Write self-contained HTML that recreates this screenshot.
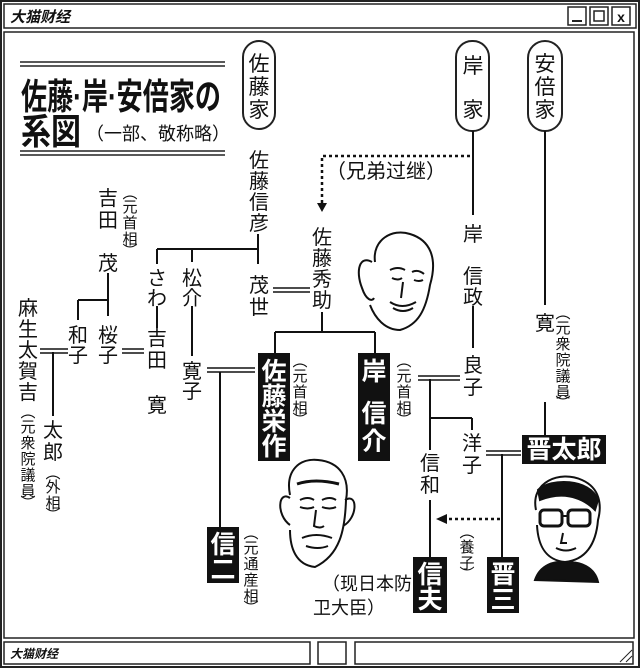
<!DOCTYPE html>
<html><head><meta charset="utf-8">
<style>
html,body{margin:0;padding:0;background:#fff;}
svg{display:block;}
text{font-family:"Liberation Sans","Noto Sans CJK JP",sans-serif;fill:#111;}
</style></head><body>
<svg width="640" height="668" viewBox="0 0 640 668" xmlns="http://www.w3.org/2000/svg">
<rect x="1" y="1" width="638" height="666" fill="#fff" stroke="#222" stroke-width="2"/>
<rect x="4" y="4" width="632" height="24" fill="#fff" stroke="#222" stroke-width="1.5"/>
<text x="10" y="22" font-size="15" font-weight="bold" font-style="italic">大猫财经</text>
<rect x="568" y="7" width="18" height="18" fill="#fff" stroke="#222" stroke-width="1.5"/>
<line x1="572" y1="21" x2="582" y2="21" stroke="#222" stroke-width="2"/>
<rect x="590" y="7" width="18" height="18" fill="#fff" stroke="#222" stroke-width="1.5"/>
<rect x="594" y="11" width="10" height="10" fill="none" stroke="#222" stroke-width="1.5"/>
<rect x="612" y="7" width="18" height="18" fill="#fff" stroke="#222" stroke-width="1.5"/>
<text x="621" y="22" font-size="14" font-weight="bold" text-anchor="middle">x</text>
<rect x="4" y="32" width="630" height="606" fill="#fff" stroke="#222" stroke-width="1.5"/>
<rect x="4" y="642" width="306" height="22" fill="#fff" stroke="#222" stroke-width="1.5"/>
<text x="10" y="658" font-size="12" font-weight="bold" font-style="italic">大猫财经</text>
<rect x="318" y="642" width="28" height="22" fill="#fff" stroke="#222" stroke-width="1.5"/>
<rect x="355" y="642" width="278" height="22" fill="#fff" stroke="#222" stroke-width="1.5"/>
<line x1="620" y1="662" x2="632" y2="650" stroke="#222"/><line x1="626" y1="662" x2="632" y2="656" stroke="#222"/>

<line x1="20" y1="62" x2="225" y2="62" stroke="#222" stroke-width="1.5"/>
<line x1="20" y1="66" x2="225" y2="66" stroke="#222" stroke-width="1.5"/>
<text x="21" y="109" font-size="36" font-weight="bold" textLength="200" lengthAdjust="spacingAndGlyphs">佐藤·岸·安倍家の</text>
<text x="21" y="144" font-size="36" font-weight="bold" textLength="60" lengthAdjust="spacingAndGlyphs">系図</text>
<text x="86" y="140" font-size="18">（一部、敬称略）</text>
<line x1="20" y1="151" x2="225" y2="151" stroke="#222" stroke-width="1.5"/>
<line x1="20" y1="155" x2="225" y2="155" stroke="#222" stroke-width="1.5"/>

<g fill="none" stroke="#222" stroke-width="2">
<rect x="243" y="41" width="32" height="88" rx="16"/>
<rect x="456" y="41" width="33" height="90" rx="16"/>
<rect x="528" y="41" width="34" height="90" rx="17"/>
</g>
<g font-size="21" text-anchor="middle">
<text x="259" y="71">佐</text><text x="259" y="94">藤</text><text x="259" y="117">家</text>
<text x="473" y="73">岸</text><text x="473" y="117">家</text>
<text x="545" y="71">安</text><text x="545" y="94">倍</text><text x="545" y="117">家</text>
</g>

<g stroke="#111" stroke-width="2" fill="none">
<line x1="473" y1="131" x2="473" y2="215"/>
<line x1="545" y1="131" x2="545" y2="305"/>
<line x1="258" y1="234" x2="258" y2="264"/>
<line x1="157" y1="249" x2="258" y2="249"/>
<line x1="157" y1="249" x2="157" y2="264"/>
<line x1="192" y1="249" x2="192" y2="262"/>
<line x1="108" y1="273" x2="108" y2="316"/>
<line x1="78" y1="300" x2="108" y2="300"/>
<line x1="78" y1="300" x2="78" y2="320"/>
<line x1="157" y1="306" x2="157" y2="328"/>
<line x1="192" y1="306" x2="192" y2="356"/>
<line x1="53" y1="352" x2="53" y2="416"/>
<line x1="322" y1="312" x2="322" y2="332"/>
<line x1="275" y1="332" x2="375" y2="332"/>
<line x1="275" y1="332" x2="275" y2="353"/>
<line x1="375" y1="332" x2="375" y2="353"/>
<line x1="220" y1="372" x2="220" y2="527"/>
<line x1="473" y1="306" x2="473" y2="348"/>
<line x1="430" y1="379" x2="430" y2="450"/>
<line x1="430" y1="500" x2="430" y2="557"/>
<line x1="430" y1="418" x2="472" y2="418"/>
<line x1="472" y1="418" x2="472" y2="430"/>
<line x1="502" y1="454" x2="502" y2="557"/>
<line x1="545" y1="402" x2="545" y2="435"/>
</g>
<g stroke="#111" stroke-width="1.6">
<line x1="40" y1="349" x2="68" y2="349"/><line x1="40" y1="353" x2="68" y2="353"/>
<line x1="122" y1="349" x2="144" y2="349"/><line x1="122" y1="353" x2="144" y2="353"/>
<line x1="273" y1="288" x2="310" y2="288"/><line x1="273" y1="292" x2="310" y2="292"/>
<line x1="207" y1="368" x2="255" y2="368"/><line x1="207" y1="372" x2="255" y2="372"/>
<line x1="418" y1="376" x2="460" y2="376"/><line x1="418" y1="380" x2="460" y2="380"/>
<line x1="486" y1="451" x2="521" y2="451"/><line x1="486" y1="455" x2="521" y2="455"/>
</g>
<g stroke="#111" stroke-width="2.5" stroke-dasharray="3,3" fill="none">
<polyline points="470,156 322,156 322,204"/>
<line x1="500" y1="519" x2="445" y2="519"/>
</g>
<polygon points="317,203 327,203 322,212" fill="#111"/>
<polygon points="436,519 447,514 447,524" fill="#111"/>
<text x="326" y="178" font-size="20" fill="#223">（兄弟过继）</text>

<g font-size="20" text-anchor="middle">
<text x="259" y="167">佐</text><text x="259" y="188">藤</text><text x="259" y="209">信</text><text x="259" y="230">彦</text>
<text x="322" y="244">佐</text><text x="322" y="265">藤</text><text x="322" y="286">秀</text><text x="322" y="307">助</text>
<text x="259" y="292">茂</text><text x="259" y="314">世</text>
<text x="108" y="205">吉</text><text x="108" y="227">田</text><text x="108" y="270">茂</text>
<text x="157" y="285">さ</text><text x="157" y="305">わ</text>
<text x="192" y="285">松</text><text x="192" y="305">介</text>
<text x="78" y="342">和</text><text x="78" y="362">子</text>
<text x="108" y="342">桜</text><text x="108" y="362">子</text>
<text x="157" y="345">吉</text><text x="157" y="367">田</text><text x="157" y="412">寛</text>
<text x="192" y="378">寛</text><text x="192" y="398">子</text>
<text x="28" y="315">麻</text><text x="28" y="336">生</text><text x="28" y="357">太</text><text x="28" y="378">賀</text><text x="28" y="399">吉</text>
<text x="53" y="437">太</text><text x="53" y="459">郎</text>
<text x="473" y="241">岸</text><text x="473" y="283">信</text><text x="473" y="304">政</text>
<text x="473" y="372">良</text><text x="473" y="394">子</text>
<text x="472" y="450">洋</text><text x="472" y="472">子</text>
<text x="430" y="470">信</text><text x="430" y="492">和</text>
<text x="545" y="330">寛</text>
</g>
<g font-size="15" text-anchor="middle">
<text x="130" y="198">︵</text><text x="130" y="212">元</text><text x="130" y="228">首</text><text x="130" y="244">相</text><text x="130" y="256">︶</text>
<text x="28" y="417">︵</text><text x="28" y="432">元</text><text x="28" y="448">衆</text><text x="28" y="464">院</text><text x="28" y="480">議</text><text x="28" y="496">員</text><text x="28" y="508">︶</text>
<text x="53" y="478">︵</text><text x="53" y="492">外</text><text x="53" y="508">相</text><text x="53" y="520">︶</text>
<text x="300" y="366">︵</text><text x="300" y="381">元</text><text x="300" y="397">首</text><text x="300" y="413">相</text><text x="300" y="425">︶</text>
<text x="404" y="366">︵</text><text x="404" y="381">元</text><text x="404" y="397">首</text><text x="404" y="413">相</text><text x="404" y="425">︶</text>
<text x="251" y="538">︵</text><text x="251" y="553">元</text><text x="251" y="569">通</text><text x="251" y="585">産</text><text x="251" y="601">相</text><text x="251" y="613">︶</text>
<text x="563" y="318">︵</text><text x="563" y="333">元</text><text x="563" y="349">衆</text><text x="563" y="365">院</text><text x="563" y="381">議</text><text x="563" y="397">員</text><text x="563" y="408">︶</text>
<text x="467" y="537">︵</text><text x="467" y="552">養</text><text x="467" y="568">子</text><text x="467" y="579">︶</text>
</g>
<text x="322" y="590" font-size="18" fill="#223">（现日本防</text>
<text x="313" y="614" font-size="18" fill="#223">卫大臣）</text>

<g fill="#111">
<rect x="258" y="353" width="32" height="108"/>
<rect x="358" y="353" width="32" height="108"/>
<rect x="207" y="527" width="32" height="56"/>
<rect x="413" y="557" width="34" height="56"/>
<rect x="487" y="557" width="32" height="56"/>
<rect x="522" y="435" width="84" height="29"/>
</g>
<g font-size="25" font-weight="bold" text-anchor="middle">
<text x="274" y="380" style="fill:#fff">佐</text><text x="274" y="405" style="fill:#fff">藤</text><text x="274" y="430" style="fill:#fff">栄</text><text x="274" y="455" style="fill:#fff">作</text>
<text x="374" y="380" style="fill:#fff">岸</text><text x="374" y="422" style="fill:#fff">信</text><text x="374" y="450" style="fill:#fff">介</text>
<text x="223" y="553" style="fill:#fff">信</text><text x="223" y="578" style="fill:#fff">二</text>
<text x="430" y="583" style="fill:#fff">信</text><text x="430" y="608" style="fill:#fff">夫</text>
<text x="503" y="583" style="fill:#fff">晋</text><text x="503" y="608" style="fill:#fff">三</text>
<text x="564" y="458" style="fill:#fff">晋太郎</text>
</g>

<g fill="none" stroke="#111" stroke-width="2">
<path d="M375,262 C372,240 392,228 410,234 C430,240 438,258 430,285 C426,310 418,325 400,330 C385,330 375,318 370,305"/>
<path d="M372,262 C360,255 355,270 362,288 C366,300 372,302 374,298"/>
<path d="M390,270 q8,-4 15,0 M412,272 q6,-3 12,2 M392,278 q6,3 10,0 M414,280 q5,2 9,0 M403,282 l-2,16 M390,302 q12,8 26,0 M393,308 q10,6 20,0"/>
<path d="M290,495 C285,470 300,458 318,460 C340,462 350,478 346,500 C345,530 340,555 315,567 C296,565 290,548 290,530"/>
<path d="M290,498 C278,490 276,515 290,525 M345,500 C358,492 358,518 343,526"/>
<path d="M297,484 q18,-6 42,0" stroke-width="3"/>
<path d="M300,500 q8,-4 14,0 M322,500 q8,-4 14,0 M300,507 q8,3 14,0 M322,507 q8,3 14,0 M316,510 l-2,16 q6,3 10,0 M302,538 q14,-6 30,0 M306,546 q12,4 22,0"/>
<path d="M536,510 C530,482 560,470 582,480 C600,488 602,505 598,520 C596,545 585,560 565,562 C545,560 538,545 537,525" />
<path d="M538,490 C550,478 590,478 598,500 L595,510 C580,495 560,492 540,500 Z" fill="#111"/>
<rect x="540" y="510" width="22" height="16" rx="4" stroke-width="3"/>
<rect x="568" y="510" width="22" height="16" rx="4" stroke-width="3"/>
<path d="M562,516 l6,0 M563,533 l-2,10 l6,0 M556,548 q10,5 20,0"/>
<path d="M535,580 C540,565 555,560 565,563 C580,560 595,568 598,582 Z" fill="#111"/>
</g>
</svg>
</body></html>
